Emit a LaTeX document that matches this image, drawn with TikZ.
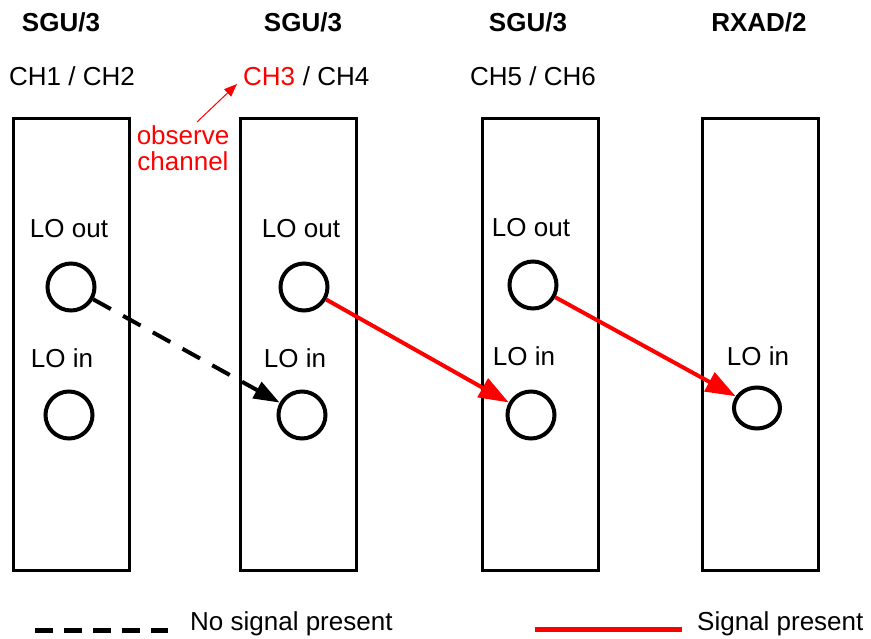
\documentclass[tikz,border=0pt]{standalone}
\usepackage{fontspec}
\setmainfont{Liberation Sans}
\usetikzlibrary{arrows.meta,shapes.geometric}
\definecolor{sigred}{RGB}{255,0,0}
\begin{document}
\begin{tikzpicture}[x=1pt,y=-1pt,
  txt/.style={inner sep=0pt,anchor=base,font=\fontsize{26}{29}\selectfont},
  ttl/.style={txt,font=\fontsize{26}{29}\selectfont\bfseries},
  board/.style={draw,line width=3pt,minimum width=116pt,minimum height=451pt,inner sep=0pt},
  port/.style={draw,circle,line width=4pt,minimum size=47pt,inner sep=0pt},
  portel/.style={draw,ellipse,line width=4pt,minimum width=46pt,minimum height=41pt,inner sep=0pt},
  nosig/.style={line width=4pt,dash pattern=on 20pt off 14pt,-{Triangle[length=26pt,width=18pt]}},
  sig/.style={draw=sigred,line width=4pt,-{Triangle[length=30pt,width=21pt,fill=sigred]}},
  note/.style={sigred,line width=1pt,-{Triangle[length=13pt,width=10pt]}}
]
\useasboundingbox (0,0) rectangle (871,639);
% boards
\node[board] (b1) at (71,344.5) {};
\node[board] (b2) at (298.5,344.5) {};
\node[board] (b3) at (540,344.5) {};
\node[board] (b4) at (760,344.5) {};
% titles
\node[ttl] (t1) at (61,32) {SGU/3};
\node[ttl] (t2) at (303,32) {SGU/3};
\node[ttl] (t3) at (528,32) {SGU/3};
\node[ttl] (t4) at (759,32) {RXAD/2};
% channels
\node[txt] (ch12) at (72,86) {CH1 / CH2};
\node[txt,anchor=base west,text=sigred] (ch3) at (243,86) {CH3};
\node[txt,anchor=base west] (ch4) at (ch3.base east) {\ / CH4};
\node[txt] (ch56) at (533,86) {CH5 / CH6};
% observe note
\node[txt,text=sigred] (obs1) at (183,145) {observe};
\node[txt,text=sigred] (obs2) at (183,171) {channel};
\coordinate (obsA) at (197,122);
\coordinate (obsB) at (237,84);
\draw[note] (obsA) -- (obsB);
% port labels
\node[txt] (lo1) at (69,238) {LO out};
\node[txt] (li1) at (62,367) {LO in};
\node[txt] (lo2) at (301,238) {LO out};
\node[txt] (li2) at (295,367) {LO in};
\node[txt] (lo3) at (531,237) {LO out};
\node[txt] (li3) at (524,366) {LO in};
\node[txt] (li4) at (758,366) {LO in};
% ports
\node[port] (o1) at (71,287) {};
\node[port] (i1) at (69,415) {};
\node[port] (o2) at (304,287) {};
\node[port] (i2) at (302,415) {};
\node[port] (o3) at (533,285) {};
\node[port] (i3) at (531,415) {};
\node[portel] (i4) at (757,408) {};
% connections
\draw[nosig] (o1) -- (i2);
\draw[sig] (o2) -- (i3);
\draw[sig] (o3) -- (i4);
% legend
\coordinate (l1a) at (35,630);
\coordinate (l1b) at (168,630);
\draw[line width=5pt,dash pattern=on 18pt off 11pt] (l1a) -- (l1b);
\node[txt,anchor=base west] (l1t) at (190,630) {No signal present};
\coordinate (l2a) at (535,629);
\coordinate (l2b) at (682,629);
\draw[sigred,line width=5pt] (l2a) -- (l2b);
\node[txt,anchor=base west] (l2t) at (697,630) {Signal present};
\end{tikzpicture}
\end{document}
